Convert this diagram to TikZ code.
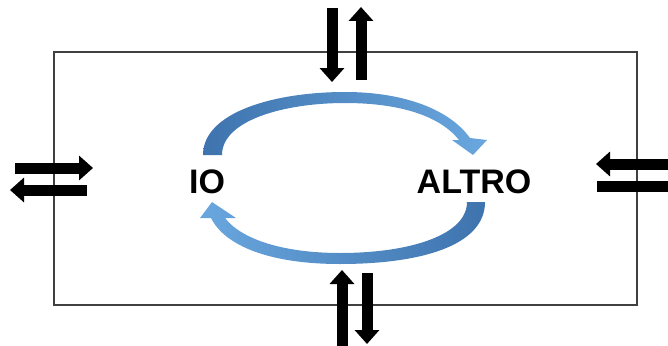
\documentclass[tikz,border=0pt]{standalone}
\usepackage{fontspec}
\setmainfont{Liberation Sans}
\usetikzlibrary{arrows.meta}
\definecolor{arcdark}{HTML}{3E73AE}
\definecolor{arclight}{HTML}{6AA7DF}
\tikzset{
  fat/.style={line width=11pt, line cap=butt, -{Triangle[length=14pt,width=24pt]}},
  lbl/.style={font=\fontsize{34}{34}\selectfont\bfseries, anchor=base, inner sep=0pt},
  frame/.style={draw=black!75, line width=1.3pt}
}
\begin{document}
\begin{tikzpicture}[x=1pt,y=-1pt]
\useasboundingbox (0,0) rectangle (668,345);
\clip (0,0) rectangle (668,345);
% frame
\draw[frame] (54,52) rectangle (637,305);
% labels
\node[lbl] (io) at (207,193) {IO};
\node[lbl] (altro) at (474,193) {ALTRO};
% upper arc
\shade[left color=arcdark, right color=arclight]
  (203,155) .. controls (203,112) and (275,92) .. (345,92)
  .. controls (405,92) and (450,110) .. (470,138)
  -- (487,140) -- (473,155) -- (452,140) -- (459,140)
  .. controls (440,116) and (400,103) .. (345,103)
  .. controls (285,103) and (222,120) .. (222,155) -- cycle;
% lower arc
\shade[left color=arclight, right color=arcdark]
  (485,202) .. controls (485,246) and (420,264) .. (340,264)
  .. controls (270,264) and (225,246) .. (211,218)
  -- (200,218) -- (212,202) -- (236,218) -- (225,218)
  .. controls (242,240) and (285,253) .. (340,253)
  .. controls (410,253) and (467,235) .. (467,202) -- cycle;
% top arrows
\coordinate (t1s) at (332,8);  \coordinate (t1e) at (332,82);
\coordinate (t2s) at (361,80); \coordinate (t2e) at (361,7);
\draw[fat] (t1s) -- (t1e);
\draw[fat] (t2s) -- (t2e);
% bottom arrows
\coordinate (b1s) at (342,346); \coordinate (b1e) at (342,270);
\coordinate (b2s) at (367,273); \coordinate (b2e) at (367,344);
\draw[fat] (b1s) -- (b1e);
\draw[fat] (b2s) -- (b2e);
% left arrows
\coordinate (l1s) at (15,168); \coordinate (l1e) at (93,168);
\coordinate (l2s) at (87,190); \coordinate (l2e) at (10,190);
\draw[fat] (l1s) -- (l1e);
\draw[fat] (l2s) -- (l2e);
% right arrows
\coordinate (r1s) at (690,164); \coordinate (r1e) at (596,164);
\coordinate (r2s) at (597,186); \coordinate (r2e) at (690,186);
\draw[fat] (r1s) -- (r1e);
\draw[fat] (r2s) -- (r2e);
\end{tikzpicture}
\end{document}
